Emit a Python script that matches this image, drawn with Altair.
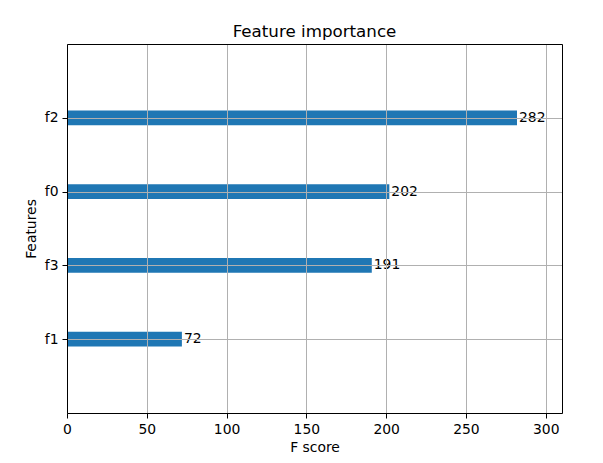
import altair as alt
import pandas as pd

features = ["f1", "f3", "f0", "f2"]
scores = [72, 191, 202, 282]
positions = [0, 1, 2, 3]
x_ticks = [0, 50, 100, 150, 200, 250, 300]

df = pd.DataFrame({"feature": features, "score": scores, "pos": positions})

FONT = "DejaVu Sans"
labels_js = "[" + ",".join(f"'{f}'" for f in features) + "]"
XMAX = max(scores) * 1.1

common = dict(
    grid=True, gridColor="#b0b0b0", gridWidth=1, domainColor="black", domainWidth=1,
    tickColor="black", tickSize=5, tickWidth=1, labelColor="black",
    labelFontSize=13.9, labelFont=FONT, labelPadding=4, titleFont=FONT,
    titleFontSize=13.9, titleFontWeight="normal", titleColor="black", zindex=1,
)

x_axis = alt.Axis(title="F score", values=x_ticks, titlePadding=5,
                  labelFlush=False, labelOverlap=False, **common)
y_axis = alt.Axis(title="Features", values=positions,
                  labelExpr=labels_js + "[datum.value]", titlePadding=6, **common)

frame = dict(domain=True, domainColor="black", domainWidth=1, ticks=False,
             labels=False, grid=False, title=None, zindex=1)
x_top = alt.Axis(orient="top", **frame)
y_right = alt.Axis(orient="right", **frame)

x_scale = alt.Scale(domain=[0, XMAX], nice=False, zero=True)
y_scale = alt.Scale(domain=[-1, 4], nice=False, zero=False)

bars = alt.Chart(df).transform_calculate(
    y0="datum.pos - 0.1", y1="datum.pos + 0.1", zero="0"
).mark_rect(color="#1f77b4").encode(
    x=alt.X("zero:Q", scale=x_scale, axis=x_axis),
    x2="score:Q",
    y=alt.Y("y0:Q", scale=y_scale, axis=y_axis),
    y2="y1:Q",
)

texts = alt.Chart(df).mark_text(
    align="left", baseline="middle", dx=2, fontSize=13.9, font=FONT, color="black"
).encode(
    x=alt.X("score:Q", scale=x_scale, axis=x_top),
    y=alt.Y("pos:Q", scale=y_scale, axis=y_right),
    text="score:Q",
)

chart = alt.layer(bars, texts).resolve_axis(
    x="independent", y="independent"
).properties(
    width=495,
    height=369,
    title=alt.TitleParams(
        "Feature importance", font=FONT, fontSize=16.7, fontWeight="normal",
        color="black", offset=3, anchor="middle",
    ),
    autosize=alt.AutoSizeParams(type="none"),
    padding={"left": 59, "top": 36, "right": 30, "bottom": 42},
).configure_view(strokeWidth=0).configure(background="white")

chart.save("out.html", embed_options={"renderer": "svg", "actions": False})
